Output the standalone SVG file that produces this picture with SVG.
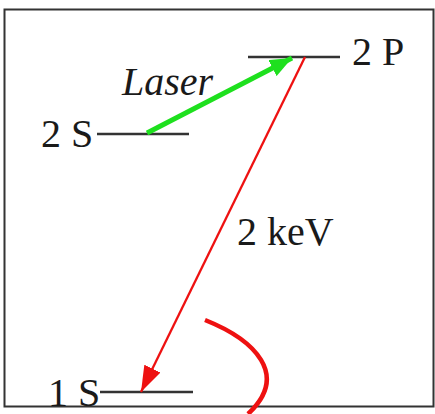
<svg xmlns="http://www.w3.org/2000/svg" width="435" height="414" viewBox="0 0 435 414">
<defs>
<style>
.lvl{stroke:#333;stroke-width:2.5;fill:none}
.t{font-family:"Liberation Serif","Times New Roman",serif;font-size:40px;fill:#1a1a1a}
</style>
<marker id="ag" markerUnits="userSpaceOnUse" markerWidth="24" markerHeight="18" refX="22" refY="9" orient="auto"><path d="M0,0 L22,9 L0,18 Z" fill="#1ee01e"/></marker>
<marker id="ar" markerUnits="userSpaceOnUse" markerWidth="28" markerHeight="18" refX="26" refY="9" orient="auto"><path d="M0,0 L26,9 L0,18 Z" fill="#ee1111"/></marker>
</defs>
<rect x="0" y="0" width="435" height="414" fill="#fff"/>
<rect x="4.5" y="9.5" width="429" height="397" fill="none" stroke="#333" stroke-width="2"/>
<g id="level-2P"><line class="lvl" x1="248" y1="57" x2="340" y2="57"/><text class="t" x="352" y="65">2 P</text></g>
<g id="level-2S"><line class="lvl" x1="97" y1="134" x2="189" y2="134"/><text class="t" x="41" y="147">2 S</text></g>
<g id="level-1S"><line class="lvl" x1="100" y1="392" x2="193" y2="392"/><text class="t" x="48" y="406">1 S</text></g>
<g id="connectors">
<line x1="147" y1="133" x2="292" y2="58" stroke="#1ee01e" stroke-width="5" marker-end="url(#ag)"/>
<line x1="305" y1="57" x2="141" y2="392" stroke="#ee1111" stroke-width="2.3" marker-end="url(#ar)"/>
<path d="M205,320 C255,340 290,375 248,414" fill="none" stroke="#ee1111" stroke-width="4.5"/>
</g>
<text class="t" x="122" y="95" font-style="italic" font-size="43">Laser</text>
<text class="t" x="237" y="245">2 keV</text>
</svg>
